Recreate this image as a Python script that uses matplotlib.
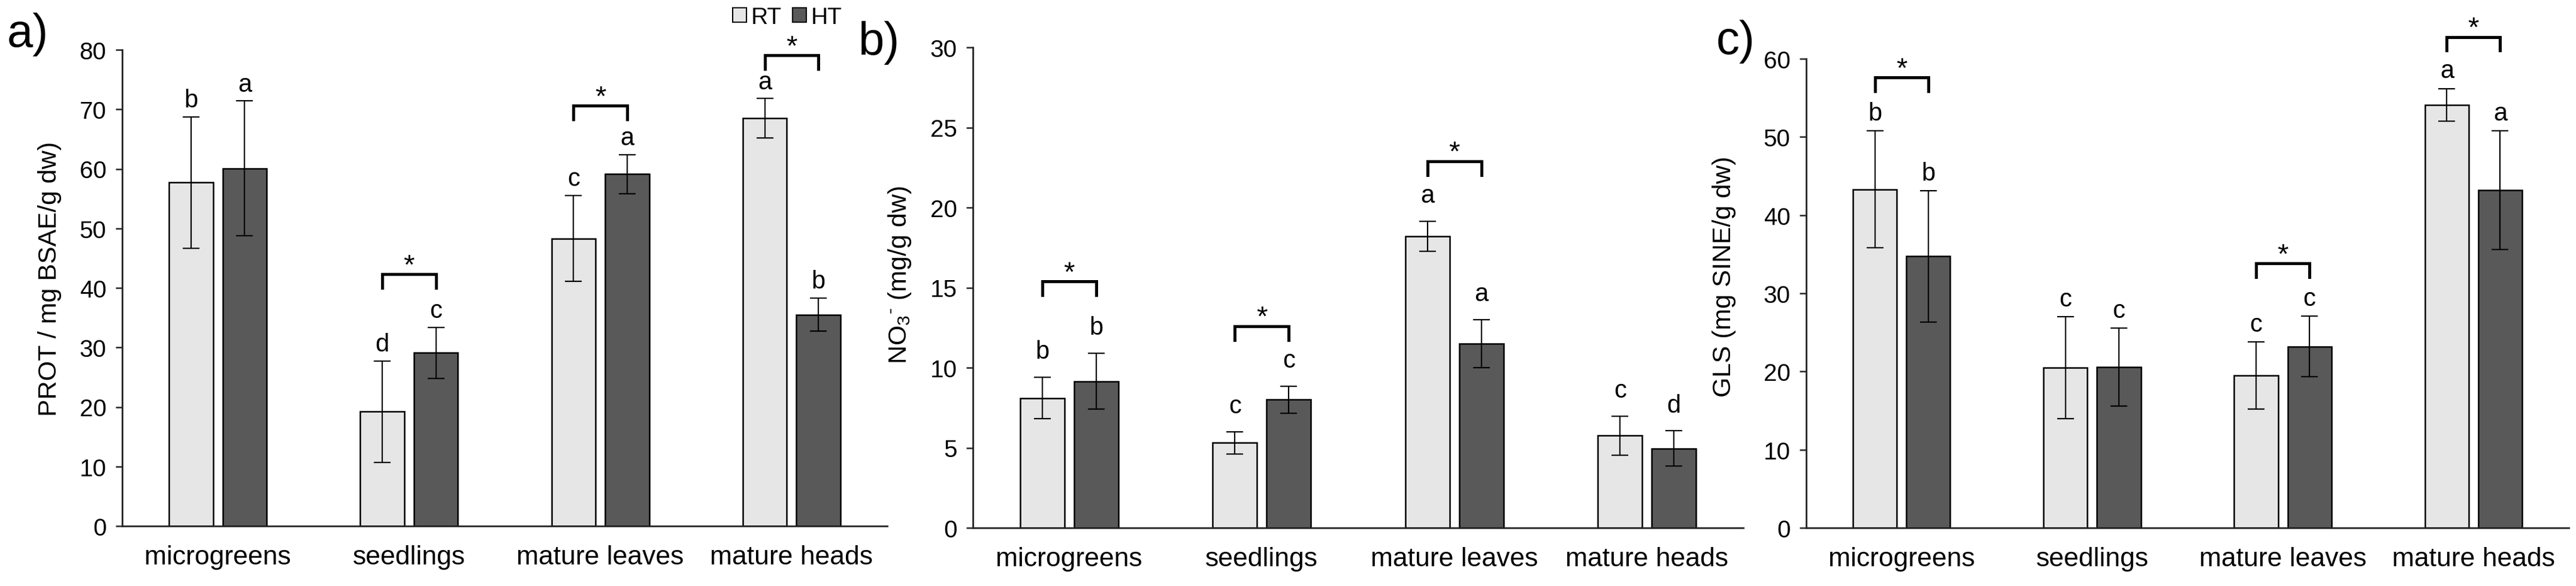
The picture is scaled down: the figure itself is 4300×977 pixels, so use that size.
import numpy as np
import matplotlib
matplotlib.use("Agg")
import matplotlib.pyplot as plt
from matplotlib.patches import Patch

plt.rcParams['font.family'] = ['Liberation Sans', 'DejaVu Sans']
plt.rcParams['mathtext.fontset'] = 'custom'
plt.rcParams['mathtext.rm'] = 'Liberation Sans'
plt.rcParams['mathtext.it'] = 'Liberation Sans'

categories = ['microgreens', 'seedlings', 'mature leaves', 'mature heads']
groups = ['RT', 'HT']

# a) proteins
prot_rt = [57.7, 19.2, 48.3, 68.5]
prot_rt_err = [11.0, 8.5, 7.2, 3.3]
prot_ht = [60.1, 29.1, 59.1, 35.5]
prot_ht_err = [11.3, 4.3, 3.3, 2.8]
prot_rt_letters = ['b', 'd', 'c', 'a']
prot_ht_letters = ['a', 'c', 'a', 'b']
prot_sig = [None, 42.3, 70.6, 79.1]

# b) nitrate
no3_rt = [8.1, 5.3, 18.2, 5.75]
no3_rt_err = [1.3, 0.7, 0.93, 1.2]
no3_ht = [9.15, 8.0, 11.5, 4.95]
no3_ht_err = [1.75, 0.85, 1.5, 1.1]
no3_rt_letters = ['b', 'c', 'a', 'c']
no3_ht_letters = ['b', 'c', 'a', 'd']
no3_sig = [15.4, 12.6, 22.9, None]

# c) glucosinolates
gls_rt = [43.3, 20.5, 19.5, 54.1]
gls_rt_err = [7.5, 6.5, 4.3, 2.1]
gls_ht = [34.75, 20.55, 23.2, 43.2]
gls_ht_err = [8.4, 5.0, 3.9, 7.6]
gls_rt_letters = ['b', 'c', 'c', 'a']
gls_ht_letters = ['b', 'c', 'c', 'a']
gls_sig = [57.6, None, 33.8, 62.8]

W, H = 4300, 978
fig = plt.figure(figsize=(W / 100, H / 100), dpi=100)

rt_color = '#e6e6e6'
ht_color = '#595959'


def px_axes(left, right, top, bottom):
    return fig.add_axes([left / W, 1 - bottom / H, (right - left) / W, (bottom - top) / H])


def panel(ax, rt, rt_err, ht, ht_err, rt_let, ht_let, sig, ymax, step, ylabel, letter_off, label_x, label_y):
    x = np.arange(len(categories)) + 0.5
    xr = x - 0.14
    xh = x + 0.14
    ax.bar(xr, rt, 0.23, color=rt_color, edgecolor='black', linewidth=1.8, zorder=2)
    ax.bar(xh, ht, 0.23, color=ht_color, edgecolor='black', linewidth=1.8, zorder=2)
    ax.errorbar(xr, rt, yerr=rt_err, fmt='none', ecolor='black', elinewidth=1.6, capsize=10, capthick=1.6, zorder=3)
    ax.errorbar(xh, ht, yerr=ht_err, fmt='none', ecolor='black', elinewidth=1.6, capsize=10, capthick=1.6, zorder=3)
    for i in range(len(categories)):
        ax.annotate(rt_let[i], (xr[i], rt[i] + rt_err[i]), xytext=(0, letter_off), textcoords='offset points',
                    ha='center', va='baseline', fontsize=30, annotation_clip=False)
        ax.annotate(ht_let[i], (xh[i], ht[i] + ht_err[i]), xytext=(0, letter_off), textcoords='offset points',
                    ha='center', va='baseline', fontsize=30, annotation_clip=False)
        if sig[i] is not None:
            leg = 0.029 * ymax
            ax.plot([xr[i], xr[i], xh[i], xh[i]], [sig[i] - leg, sig[i], sig[i], sig[i] - leg],
                    color='black', lw=3.6, solid_joinstyle='miter', clip_on=False, zorder=4)
            ax.annotate('*', ((xr[i] + xh[i]) / 2, sig[i]), xytext=(0, 1), textcoords='offset points',
                        ha='center', va='baseline', fontsize=34, annotation_clip=False)
    ax.set_xlim(0, len(categories))
    ax.set_ylim(0, ymax)
    ax.set_yticks(np.arange(0, ymax + step / 2, step))
    ax.set_xticks(x)
    ax.set_xticklabels(categories)
    for s in ['top', 'right']:
        ax.spines[s].set_visible(False)
    for s in ['left', 'bottom']:
        ax.spines[s].set_linewidth(2.0)
        ax.spines[s].set_color('#222222')
    ax.tick_params(axis='y', direction='out', length=8, width=1.8, labelsize=29, pad=11, color='#222222')
    ax.tick_params(axis='x', length=0, labelsize=32, pad=22)
    ax.set_ylabel(ylabel, fontsize=31, va='center')
    ax.yaxis.set_label_coords(label_x, label_y)


ax_a = px_axes(204, 1481, 84, 878)
panel(ax_a, prot_rt, prot_rt_err, prot_ht, prot_ht_err, prot_rt_letters, prot_ht_letters, prot_sig,
      80, 10, 'PROT / mg BSAE/g dw)', 12, -0.095, 0.52)

ax_b = px_axes(1624, 2910, 80, 881)
panel(ax_b, no3_rt, no3_rt_err, no3_ht, no3_ht_err, no3_rt_letters, no3_ht_letters, no3_sig,
      30, 5, r'NO$_3$$^{\text{-}}$ (mg/g dw)', 23, -0.095, 0.527)

ax_c = px_axes(3015, 4288, 99, 881)
panel(ax_c, gls_rt, gls_rt_err, gls_ht, gls_ht_err, gls_rt_letters, gls_ht_letters, gls_sig,
      60, 10, 'GLS (mg SINE/g dw)', 13, -0.108, 0.537)

fig.text(12 / W, 1 - 78 / H, 'a)', fontsize=56, va='baseline')
fig.text(1433 / W, 1 - 92 / H, 'b)', fontsize=56, va='baseline')
fig.text(2865 / W, 1 - 90 / H, 'c)', fontsize=56, va='baseline')

handles = [Patch(facecolor=rt_color, edgecolor='black', linewidth=1.5),
           Patch(facecolor=ht_color, edgecolor='black', linewidth=1.5)]
fig.legend(handles, groups, loc='center left', bbox_to_anchor=(1223 / W, 1 - 30 / H), ncol=2,
           frameon=False, borderpad=0, borderaxespad=0, handlelength=0.6, handleheight=0.56,
           handletextpad=0.2, columnspacing=0.46, fontsize=28)

fig.savefig('out.png', dpi=100, facecolor='white')
